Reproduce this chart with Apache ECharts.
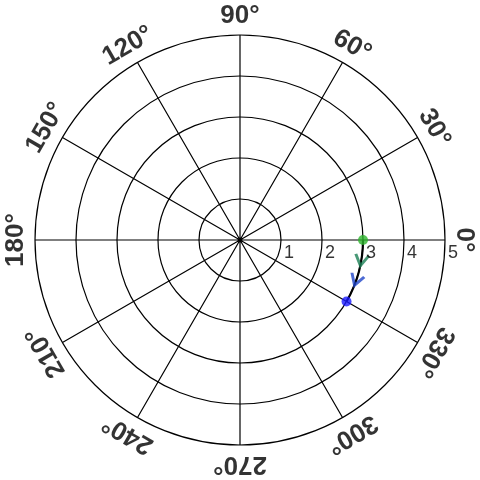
<!DOCTYPE html>
<html><head><meta charset="utf-8">
<script src="https://cdn.jsdelivr.net/npm/echarts@6/dist/echarts.min.js"></script>
<style>html,body{margin:0;padding:0;background:#fff}#c{width:480px;height:480px}</style>
</head><body><div id="c"></div>
<script>
// ---- data ----
const angleTicks = [0, 30, 60, 90, 120, 150, 180, 210, 240, 270, 300, 330];
const angleTickLabels = ['0°', '30°', '60°', '90°', '120°', '150°', '180°', '210°', '240°', '270°', '300°', '330°'];
const radiusTicks = [1, 2, 3, 4, 5];
const radiusTickLabels = ['1', '2', '3', '4', '5'];
const pathR = [3, 3];
const pathTheta = [0, -30];          // degrees, path from start to end
const startPoint = [3, 0];           // [r, theta]
const endPoint = [3, -30];
const arrowR = [3, 3];
const arrowTheta = [-9.5, -19];
const arrowColors = ['#1b7f55', '#1f45c8'];
const labelRadius = 5.47;

const norm = a => ((a % 360) + 360) % 360;

const chart = echarts.init(document.getElementById('c'), null, {renderer: 'canvas'});
const font = "'Liberation Sans', Arial, sans-serif";

chart.setOption({
  animation: false,
  backgroundColor: '#fff',
  polar: {center: ['50%', '50%'], radius: 205},
  angleAxis: {
    type: 'value', min: 0, max: 360, interval: 30, startAngle: 0, clockwise: false,
    axisLine: {show: false},
    axisTick: {show: false}, axisLabel: {show: false},
    splitLine: {show: true, lineStyle: {color: '#000', width: 1.2}}
  },
  radiusAxis: {
    type: 'value', min: 0, max: 5, interval: 1,
    axisLine: {show: false}, axisTick: {show: false}, axisLabel: {show: false},
    splitLine: {show: true, lineStyle: {color: '#000', width: 1.2}}
  },
  series: [
    {
      type: 'custom', coordinateSystem: 'polar', clip: false, z: 3,
      data: [[pathR[0], norm(pathTheta[0])]],
      renderItem: function (params, api) {
        const c = api.coord([0, 0]);
        const p0 = api.coord([pathR[0], norm(pathTheta[0])]);
        const p1 = api.coord([pathR[1], norm(pathTheta[1])]);
        const r = Math.hypot(p0[0] - c[0], p0[1] - c[1]);
        const a0 = Math.atan2(p0[1] - c[1], p0[0] - c[0]);
        const a1 = Math.atan2(p1[1] - c[1], p1[0] - c[0]);
        return {
          type: 'arc',
          shape: {cx: c[0], cy: c[1], r: r, startAngle: a0, endAngle: a1, clockwise: true},
          style: {stroke: '#000', lineWidth: 2.2, fill: 'none'}
        };
      }
    },
    {
      type: 'scatter', coordinateSystem: 'polar', clip: false, z: 4,
      symbol: 'path://M0,0 L6.5,10 L13,0', symbolSize: [13, 11],
      data: arrowR.map((r, i) => ({
        value: [r, norm(arrowTheta[i])],
        symbolRotate: arrowTheta[i],
        itemStyle: {color: 'rgba(0,0,0,0)', borderColor: arrowColors[i], borderWidth: 2.8}
      }))
    },
    {
      type: 'scatter', coordinateSystem: 'polar', clip: false, z: 5,
      symbol: 'circle', symbolSize: 10,
      data: [
        {value: [startPoint[0], norm(startPoint[1])], itemStyle: {color: '#2db52d'}},
        {value: [endPoint[0], norm(endPoint[1])], itemStyle: {color: '#1a1aff'}}
      ]
    },
    {
      type: 'scatter', coordinateSystem: 'polar', clip: false, z: 6, silent: true,
      symbolSize: 0,
      data: angleTicks.map((a, i) => ({
        value: [labelRadius, a],
        label: {rotate: a - 90, formatter: angleTickLabels[i]}
      })),
      label: {
        show: true, position: 'inside', align: 'center', verticalAlign: 'middle',
        fontFamily: font, fontWeight: 'bold', fontSize: 26, color: '#000',
        textBorderWidth: 0
      }
    },
    {
      type: 'scatter', coordinateSystem: 'polar', clip: false, z: 6, silent: true,
      symbolSize: 0,
      data: radiusTicks.map((r, i) => ({
        value: [r, 0],
        label: {formatter: radiusTickLabels[i]}
      })),
      label: {
        show: true, position: 'inside', align: 'left', verticalAlign: 'middle',
        offset: [3, 13], fontFamily: font, fontSize: 18, color: '#000',
        textBorderWidth: 0
      }
    }
  ]
});
</script>
</body></html>
